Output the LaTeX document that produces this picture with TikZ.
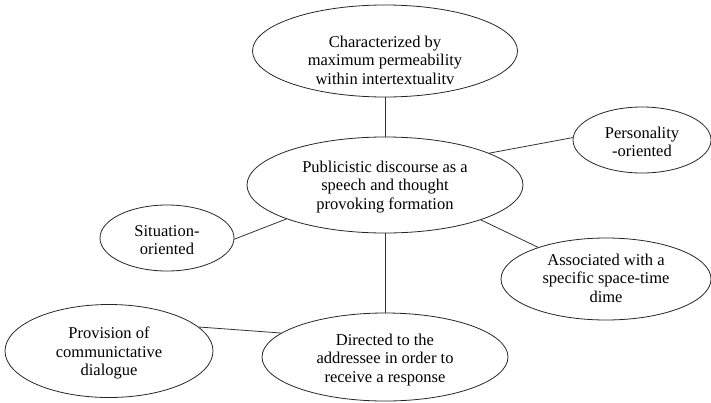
\documentclass[tikz,border=0pt]{standalone}
\usepackage{fontspec}
\setmainfont{Liberation Serif}
\usetikzlibrary{shapes.geometric}
\begin{document}
\begin{tikzpicture}[x=1pt,y=-1pt,
  oval/.style={draw=black!85,line width=0.8pt,ellipse,inner sep=0pt},
  lbl/.style={align=center,font=\fontsize{16.5}{18.5}\selectfont,inner sep=0pt},
  link/.style={draw=black!80,line width=0.8pt}]
\useasboundingbox (0,0) rectangle (711,402);
% ellipses
\node[oval,minimum width=265pt,minimum height=92pt] (top) at (385,51) {};
\node[oval,minimum width=276pt,minimum height=96pt] (ctr) at (385,185) {};
\node[oval,minimum width=138pt,minimum height=66pt] (pers) at (642,140) {};
\node[oval,minimum width=134pt,minimum height=66pt] (sit) at (167,238) {};
\node[oval,minimum width=210pt,minimum height=82pt] (assoc) at (606,279) {};
\node[oval,minimum width=208pt,minimum height=93pt] (prov) at (109,351) {};
\node[oval,minimum width=246pt,minimum height=88pt] (dir) at (385,357) {};
% texts
\node[lbl] (ttop) at (385,60) {Characterized by\\maximum permeability\\within intertextualitv};
\node[lbl] (tctr) at (385,187) {Publicistic discourse as a\\speech and thought\\provoking formation};
\node[lbl] (tpers) at (642,142) {Personality\\-oriented};
\node[lbl] (tsit) at (167,240) {Situation-\\oriented};
\node[lbl] (tassoc) at (606,278) {Associated with a\\specific space-time\\dime};
\node[lbl] (tprov) at (109,353) {Provision of\\communictative\\dialogue};
\node[lbl] (tdir) at (385,360) {Directed to the\\addressee in order to\\receive a response};
% connectors
\draw[link] (top.south) -- (ctr.north);
\draw[link] (ctr.17) -- (pers.178);
\draw[link] (ctr.199) -- (sit.-1);
\draw[link] (ctr.-20) -- (assoc.155);
\draw[link] (ctr.south) -- (dir.north);
\draw[link] (prov.15) -- (dir.167);
\end{tikzpicture}
\end{document}
